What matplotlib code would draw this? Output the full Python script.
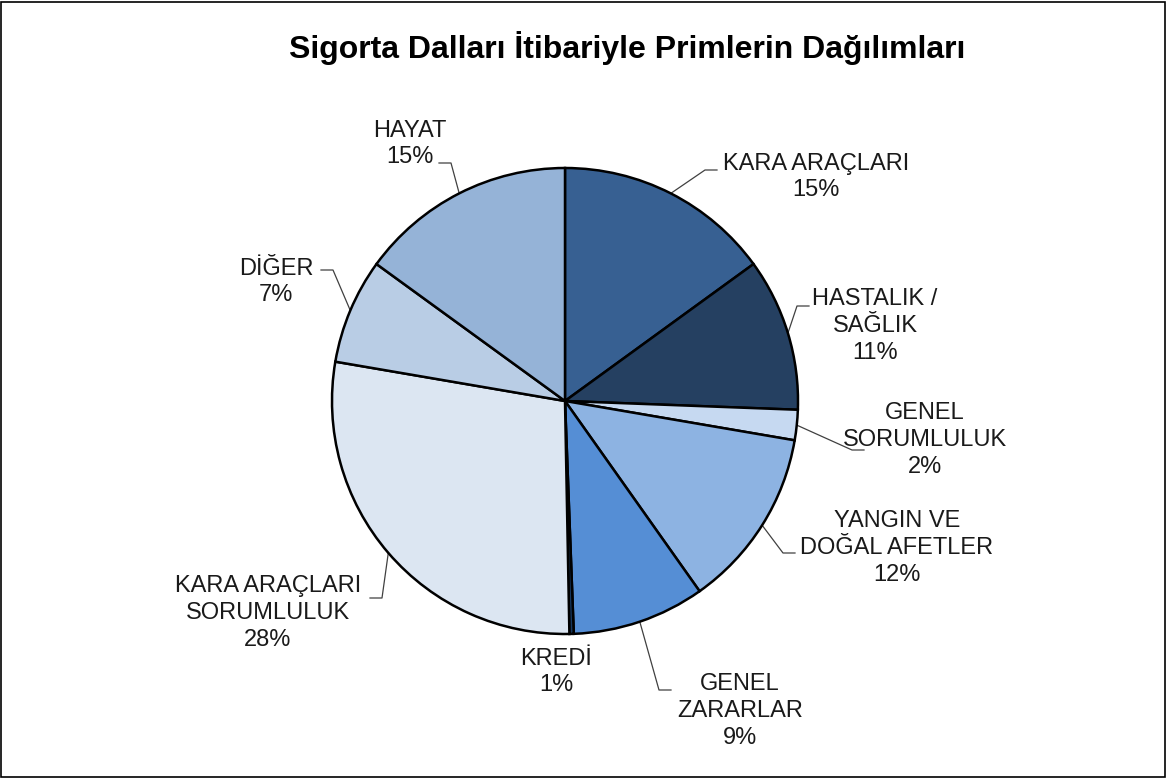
import numpy as np
import matplotlib
matplotlib.use("Agg")
import matplotlib.pyplot as plt
from matplotlib.patches import Rectangle

# --- Data ---
branches = [
    "KARA ARAÇLARI",
    "HASTALIK /\nSAĞLIK",
    "GENEL\nSORUMLULUK",
    "YANGIN VE\nDOĞAL AFETLER",
    "GENEL\nZARARLAR",
    "KREDİ",
    "KARA ARAÇLARI\nSORUMLULUK",
    "DİĞER",
    "HAYAT",
]
shares = [15.0, 10.6, 2.1, 12.5, 9.2, 0.3, 28.0, 7.3, 15.0]
pct_labels = ["15%", "11%", "2%", "12%", "9%", "1%", "28%", "7%", "15%"]

colors = ["#376092", "#254061", "#c6d9f1", "#8db3e2", "#558ed5",
          "#17375e", "#dce6f2", "#b9cde5", "#95b3d7"]

# --- Layout (pixel coordinates, origin top-left) ---
W, H = 1167, 778
CENTER = (565, 401)
RADIUS = 233
# text block centre for each label
label_pos = [(816, 177), (875, 326), (925, 440), (897, 548), (740, 711),
             (556, 672), (268, 613), (276, 282), (410, 144)]
# where the leader line meets the label (None = no leader line)
leader_end = [(717, 170), (809, 306), (864, 450), (795, 553), (671, 690),
              None, (370, 598), (321, 270), (439, 163)]
ELBOW = 12


def fy(y):
    return H - y


fig = plt.figure(figsize=(W / 100, H / 100), dpi=100)
ax = fig.add_axes([0, 0, 1, 1])

wedges, _ = ax.pie(shares, colors=colors, startangle=90, counterclock=False,
                   center=(CENTER[0], fy(CENTER[1])), radius=RADIUS,
                   wedgeprops=dict(edgecolor="black", linewidth=1.8))
ax.set_xlim(0, W)
ax.set_ylim(0, H)
ax.set_aspect("equal")
ax.axis("off")

font = "Liberation Sans"
for w, name, pct, pos, end in zip(wedges, branches, pct_labels, label_pos, leader_end):
    ax.text(pos[0], fy(pos[1]), f"{name}\n{pct}", ha="center", va="center",
            multialignment="center", fontsize=17, family=font,
            color="#1a1a1a", linespacing=1.28)
    if end is None:
        continue
    mid = np.deg2rad((w.theta1 + w.theta2) / 2)
    sx = CENTER[0] + RADIUS * np.cos(mid)
    sy = fy(CENTER[1]) + RADIUS * np.sin(mid)
    side = -1 if end[0] > CENTER[0] else 1
    ex, ey = end[0], fy(end[1])
    ax.plot([sx, ex + side * ELBOW, ex], [sy, ey, ey], color="#404040",
            linewidth=0.9, zorder=0.5)

fig.text(627 / W, 1 - 48 / H, "Sigorta Dalları İtibariyle Primlerin Dağılımları",
         ha="center", va="center", fontsize=23, fontweight="bold", family=font)

fig.patches.append(Rectangle((0.001, 0.001), 0.997, 0.997, transform=fig.transFigure,
                             fill=False, edgecolor="black", linewidth=1.2))

fig.savefig("out.png", dpi=100)
